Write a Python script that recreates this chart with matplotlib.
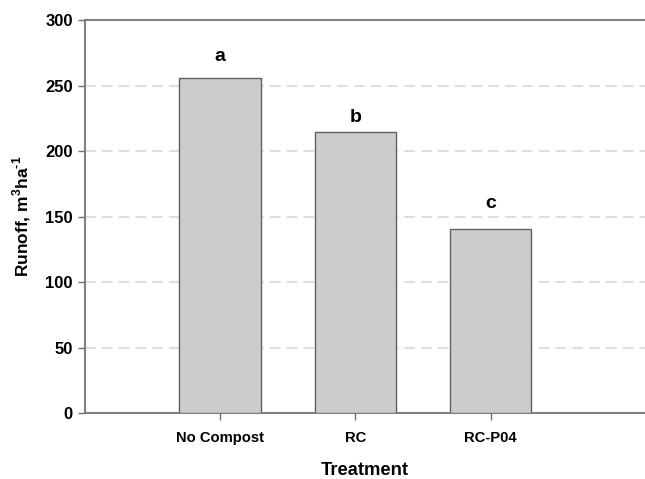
import matplotlib.pyplot as plt

plt.rcParams['font.family'] = ['Liberation Sans', 'DejaVu Sans']
plt.rcParams['mathtext.fontset'] = 'custom'
plt.rcParams['mathtext.rm'] = 'Liberation Sans:bold'
plt.rcParams['mathtext.bf'] = 'Liberation Sans:bold'

treatments = ["No Compost", "RC", "RC-P04"]
runoff = [256, 215, 140.5]
letters = ["a", "b", "c"]
letter_y = [272, 226, 160]

fig = plt.figure(figsize=(6.45, 4.79), dpi=100)
ax = fig.add_axes([0.1313, 0.137, 0.8687, 0.821])

pos = range(len(treatments))
ax.bar(pos, runoff, width=0.6, color="#cccccc", edgecolor="#606060", linewidth=1.0, zorder=3)
for x, l, y in zip(pos, letters, letter_y):
    ax.text(x, y, l, ha="center", va="center", fontsize=14, fontweight="bold")

ax.set_xlim(-1.0, 3.14)
ax.set_ylim(0, 300)
ax.set_yticks(range(0, 301, 50))
ax.set_xticks(list(pos))
ax.set_xticklabels(treatments, fontweight="bold", fontsize=10.6)
for t in ax.get_yticklabels():
    t.set_fontweight("bold")
    t.set_fontsize(12)

ax.yaxis.grid(True, color="#d4d4d4", linestyle=(0, (7, 4)), linewidth=1.1, zorder=0)
ax.spines["right"].set_visible(False)
for s in ["left", "bottom", "top"]:
    ax.spines[s].set_color("#808080")
    ax.spines[s].set_linewidth(1.5)
ax.tick_params(axis="both", direction="out", length=5, color="#707070", width=1)
ax.tick_params(axis="x", pad=8)

ax.set_ylabel("Runoff, m$^{3}$ha$^{\u20101}$", fontsize=12.5, fontweight="bold", labelpad=9)
ax.set_xlabel("Treatment", fontsize=13.2, fontweight="bold", labelpad=12)

fig.savefig("out.png", dpi=100)
